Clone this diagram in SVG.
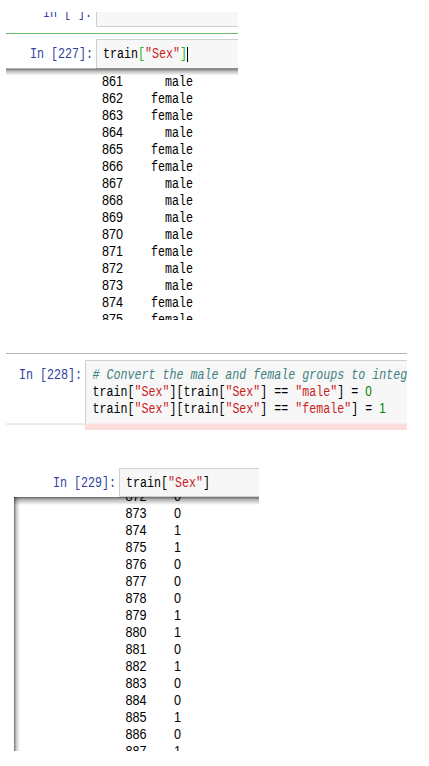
<svg xmlns="http://www.w3.org/2000/svg" width="429" height="766" viewBox="0 0 429 766">
<style>
text{font-family:"Liberation Mono","DejaVu Sans Mono",monospace;font-size:15px;white-space:pre;fill:#000}
.d{font-family:"Liberation Sans","DejaVu Sans",sans-serif}
.v{text-anchor:end}
.p{fill:#303F9F}
.s{fill:#C81E1E}
.n{fill:#008000;font-family:"Liberation Sans","DejaVu Sans",sans-serif}
.b{fill:#22BB22}
.c{fill:#408080;font-style:italic}
.box{fill:#F7F7F7}
.bd{stroke:#CFCFCF;stroke-width:1;fill:none}
</style>
<defs>
<linearGradient id="shV" x1="0" y1="0" x2="0" y2="1">
<stop offset="0" stop-color="#000" stop-opacity="0.6"/>
<stop offset="0.35" stop-color="#000" stop-opacity="0.28"/>
<stop offset="1" stop-color="#000" stop-opacity="0"/>
</linearGradient>
<linearGradient id="shH" x1="0" y1="0" x2="1" y2="0">
<stop offset="0" stop-color="#000" stop-opacity="0.55"/>
<stop offset="0.4" stop-color="#000" stop-opacity="0.2"/>
<stop offset="1" stop-color="#000" stop-opacity="0"/>
</linearGradient>
<clipPath id="cTop"><rect x="0" y="12" width="240" height="20"/></clipPath>
<clipPath id="c227"><rect x="6" y="68" width="232" height="252"/></clipPath>
<clipPath id="c228"><rect x="85" y="360" width="322" height="64"/></clipPath>
<clipPath id="c229"><rect x="14" y="497" width="245" height="254"/></clipPath>
</defs>
<rect width="429" height="766" fill="#FFFFFF"/>

<g id="cell-prev" clip-path="url(#cTop)">
<rect class="box" x="96.5" y="0" width="141.5" height="26.5"/>
<path class="bd" d="M96.5 0V26.5H238"/>
<text class="p" transform="translate(43 17) scale(0.7778 1)">In [ ]:</text>
</g>

<g id="cell-227">
<line x1="6" y1="33.5" x2="238" y2="33.5" stroke="#66BB6A" stroke-width="1"/>
<rect class="box" x="96.5" y="39.5" width="141.5" height="29"/>
<path class="bd" d="M238 39.5H96.5V68.5H238"/>
<text class="p" transform="translate(30 58) scale(0.7778 1)">In [227]:</text>
<text transform="translate(103 58) scale(0.7778 1)">train<tspan class="b">[</tspan><tspan class="s">"Sex"</tspan><tspan class="b">]</tspan></text>
<line x1="187.5" y1="47" x2="187.5" y2="62" stroke="#000" stroke-width="1"/>
</g>

<g id="output-227" clip-path="url(#c227)">
<rect x="6" y="68.5" width="232" height="7" fill="url(#shV)"/>
<text class="d" transform="translate(102 86) scale(0.8393 1)">861</text><text class="v" transform="translate(193 86) scale(0.7778 1)">male</text>
<text class="d" transform="translate(102 103) scale(0.8393 1)">862</text><text class="v" transform="translate(193 103) scale(0.7778 1)">female</text>
<text class="d" transform="translate(102 120) scale(0.8393 1)">863</text><text class="v" transform="translate(193 120) scale(0.7778 1)">female</text>
<text class="d" transform="translate(102 137) scale(0.8393 1)">864</text><text class="v" transform="translate(193 137) scale(0.7778 1)">male</text>
<text class="d" transform="translate(102 154) scale(0.8393 1)">865</text><text class="v" transform="translate(193 154) scale(0.7778 1)">female</text>
<text class="d" transform="translate(102 171) scale(0.8393 1)">866</text><text class="v" transform="translate(193 171) scale(0.7778 1)">female</text>
<text class="d" transform="translate(102 188) scale(0.8393 1)">867</text><text class="v" transform="translate(193 188) scale(0.7778 1)">male</text>
<text class="d" transform="translate(102 205) scale(0.8393 1)">868</text><text class="v" transform="translate(193 205) scale(0.7778 1)">male</text>
<text class="d" transform="translate(102 222) scale(0.8393 1)">869</text><text class="v" transform="translate(193 222) scale(0.7778 1)">male</text>
<text class="d" transform="translate(102 239) scale(0.8393 1)">870</text><text class="v" transform="translate(193 239) scale(0.7778 1)">male</text>
<text class="d" transform="translate(102 256) scale(0.8393 1)">871</text><text class="v" transform="translate(193 256) scale(0.7778 1)">female</text>
<text class="d" transform="translate(102 273) scale(0.8393 1)">872</text><text class="v" transform="translate(193 273) scale(0.7778 1)">male</text>
<text class="d" transform="translate(102 290) scale(0.8393 1)">873</text><text class="v" transform="translate(193 290) scale(0.7778 1)">male</text>
<text class="d" transform="translate(102 307) scale(0.8393 1)">874</text><text class="v" transform="translate(193 307) scale(0.7778 1)">female</text>
<text class="d" transform="translate(102 324) scale(0.8393 1)">875</text><text class="v" transform="translate(193 324) scale(0.7778 1)">female</text>
</g>

<g id="cell-228">
<line x1="6" y1="353.5" x2="407" y2="353.5" stroke="#B4B4B4" stroke-width="1"/>
<rect class="box" x="85.5" y="360.5" width="321.5" height="63"/>
<path class="bd" d="M407 360.5H85.5V423.5"/>
<rect x="85" y="423.5" width="322" height="6.5" fill="#FDDCDC"/>
<line x1="6" y1="424" x2="85" y2="424" stroke="#D8D8D8" stroke-width="1"/>
<text class="p" transform="translate(19 379) scale(0.7778 1)">In [228]:</text>
<g clip-path="url(#c228)">
<text class="c" transform="translate(92.5 379) scale(0.7778 1)"># Convert the male and female groups to integ</text>
<text transform="translate(92.5 396) scale(0.7778 1)">train[<tspan class="s">"Sex"</tspan>][train[<tspan class="s">"Sex"</tspan>] == <tspan class="s">"male"</tspan>] = <tspan class="n">0</tspan></text>
<text transform="translate(92.5 413) scale(0.7778 1)">train[<tspan class="s">"Sex"</tspan>][train[<tspan class="s">"Sex"</tspan>] == <tspan class="s">"female"</tspan>] = <tspan class="n">1</tspan></text>
</g>
</g>

<g id="cell-229">
<rect class="box" x="119.5" y="468.5" width="139.5" height="28"/>
<path class="bd" d="M259 468.5H119.5V496.5H259"/>
<text class="p" transform="translate(53 487) scale(0.7778 1)">In [229]:</text>
<text transform="translate(126 487) scale(0.7778 1)">train[<tspan class="s">"Sex"</tspan>]</text>
</g>

<g id="output-229" clip-path="url(#c229)">
<rect x="14" y="497" width="245" height="8" fill="url(#shV)"/>
<rect x="14" y="497" width="6" height="254" fill="url(#shH)"/>
<text class="d" transform="translate(125.5 501) scale(0.8393 1)">872</text><text class="d" transform="translate(174 501) scale(0.8393 1)">0</text>
<text class="d" transform="translate(125.5 518) scale(0.8393 1)">873</text><text class="d" transform="translate(174 518) scale(0.8393 1)">0</text>
<text class="d" transform="translate(125.5 535) scale(0.8393 1)">874</text><text class="d" transform="translate(174 535) scale(0.8393 1)">1</text>
<text class="d" transform="translate(125.5 552) scale(0.8393 1)">875</text><text class="d" transform="translate(174 552) scale(0.8393 1)">1</text>
<text class="d" transform="translate(125.5 569) scale(0.8393 1)">876</text><text class="d" transform="translate(174 569) scale(0.8393 1)">0</text>
<text class="d" transform="translate(125.5 586) scale(0.8393 1)">877</text><text class="d" transform="translate(174 586) scale(0.8393 1)">0</text>
<text class="d" transform="translate(125.5 603) scale(0.8393 1)">878</text><text class="d" transform="translate(174 603) scale(0.8393 1)">0</text>
<text class="d" transform="translate(125.5 620) scale(0.8393 1)">879</text><text class="d" transform="translate(174 620) scale(0.8393 1)">1</text>
<text class="d" transform="translate(125.5 637) scale(0.8393 1)">880</text><text class="d" transform="translate(174 637) scale(0.8393 1)">1</text>
<text class="d" transform="translate(125.5 654) scale(0.8393 1)">881</text><text class="d" transform="translate(174 654) scale(0.8393 1)">0</text>
<text class="d" transform="translate(125.5 671) scale(0.8393 1)">882</text><text class="d" transform="translate(174 671) scale(0.8393 1)">1</text>
<text class="d" transform="translate(125.5 688) scale(0.8393 1)">883</text><text class="d" transform="translate(174 688) scale(0.8393 1)">0</text>
<text class="d" transform="translate(125.5 705) scale(0.8393 1)">884</text><text class="d" transform="translate(174 705) scale(0.8393 1)">0</text>
<text class="d" transform="translate(125.5 722) scale(0.8393 1)">885</text><text class="d" transform="translate(174 722) scale(0.8393 1)">1</text>
<text class="d" transform="translate(125.5 739) scale(0.8393 1)">886</text><text class="d" transform="translate(174 739) scale(0.8393 1)">0</text>
<text class="d" transform="translate(125.5 756) scale(0.8393 1)">887</text><text class="d" transform="translate(174 756) scale(0.8393 1)">1</text>
</g>
</svg>
